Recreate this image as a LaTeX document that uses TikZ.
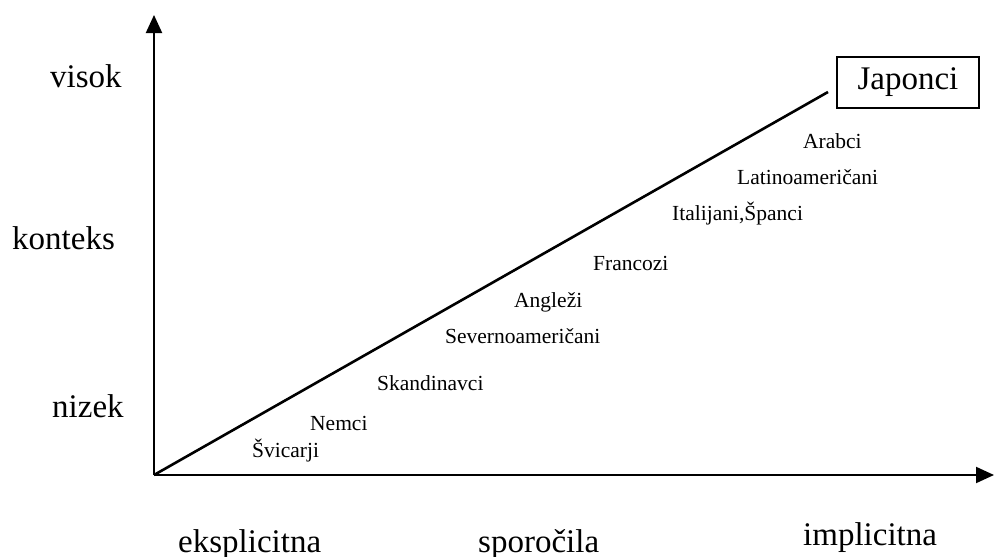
\documentclass[tikz,border=0pt]{standalone}
\usepackage{fontspec}
\setmainfont{Liberation Serif}
\usetikzlibrary{arrows.meta}
\tikzset{
  big/.style={inner sep=0pt, anchor=base west, font=\fontsize{33}{38}\selectfont},
  small/.style={inner sep=0pt, anchor=base west, font=\fontsize{21.5}{25}\selectfont},
  axis/.style={line width=2pt, -{Triangle[length=18pt,width=16pt]}},
  diag/.style={line width=2.6pt},
  boxed/.style={draw, line width=1.8pt, minimum width=142pt, minimum height=51pt, inner sep=0pt, font=\fontsize{33}{38}\selectfont}
}
\begin{document}
\begin{tikzpicture}[x=1pt,y=-1pt]
\useasboundingbox (0,0) rectangle (994,557);
\coordinate (O) at (154,475);
\coordinate (Ytop) at (154,15);
\coordinate (Xend) at (994,475);
\coordinate (Dend) at (828,92);
\draw[axis] (O) -- (Ytop);
\draw[axis] (O) -- (Xend);
\draw[diag] (O) -- (Dend);
\node[boxed] (japonci) at (908,82.5) {\raisebox{-0.5pt}{Japonci}};
\node[big] (visok) at (50,87) {visok};
\node[big] (konteks) at (12,249) {konteks};
\node[big] (nizek) at (52,417) {nizek};
\node[big] (eksp) at (178,552) {eksplicitna};
\node[big] (spor) at (478,552) {sporočila};
\node[big] (impl) at (803,545) {implicitna};
\node[small] (arabci) at (803,148) {Arabci};
\node[small] (latino) at (737,184) {Latinoameričani};
\node[small] (ital) at (672,220) {Italijani,Španci};
\node[small] (franc) at (593,270) {Francozi};
\node[small] (angl) at (514,307) {Angleži};
\node[small] (sever) at (445,343) {Severnoameričani};
\node[small] (skand) at (377,390) {Skandinavci};
\node[small] (nemci) at (310,430) {Nemci};
\node[small] (svic) at (252,457) {Švicarji};
\end{tikzpicture}
\end{document}
